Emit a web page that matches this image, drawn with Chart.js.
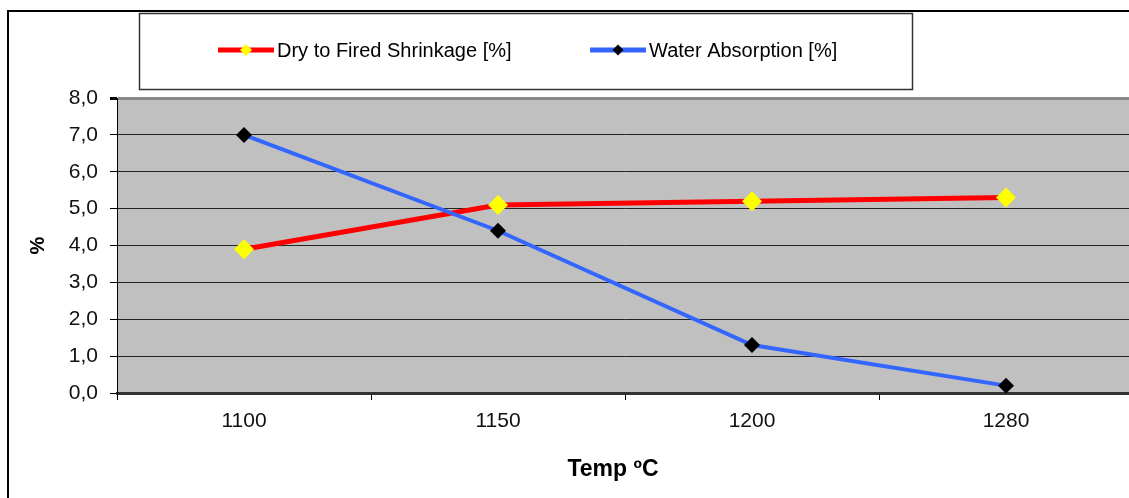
<!DOCTYPE html>
<html>
<head>
<meta charset="utf-8">
<script src="https://cdn.jsdelivr.net/npm/chart.js@4"></script>
<style>
  html, body { margin: 0; padding: 0; background: #fff; overflow: hidden; }
  #wrap { position: relative; width: 1145px; height: 498px; }
</style>
</head>
<body>
<div id="wrap"><canvas id="chart"></canvas></div>
<script>
const temps = ["1100", "1150", "1200", "1280"];
const shrinkage = [3.9, 5.1, 5.2, 5.3];
const absorption = [7.0, 4.4, 1.3, 0.2];
const yMin = 0, yMax = 8, yStep = 1;
const seriesNames = ["Dry to Fired Shrinkage [%]", "Water Absorption [%]"];
const xTitle = "Temp ºC";

const FONT = "'Liberation Sans', Arial, sans-serif";

// --- background, frame, legend box and x title ---
const framePlugin = {
  id: "frame",
  beforeDraw(chart) {
    const { ctx, chartArea: a } = chart;
    ctx.save();
    ctx.fillStyle = "#C0C0C0";
    ctx.fillRect(a.left, a.top, a.right - a.left, a.bottom - a.top);
    // outer frame (left + top visible)
    ctx.strokeStyle = "#000";
    ctx.lineWidth = 2;
    ctx.beginPath();
    ctx.moveTo(8, 498);
    ctx.lineTo(8, 11);
    ctx.lineTo(1145, 11);
    ctx.stroke();
    // legend box
    ctx.strokeStyle = "#333";
    ctx.lineWidth = 1.5;
    ctx.strokeRect(139.5, 13.5, 773, 76);
    ctx.restore();
  },
  afterDraw(chart) {
    const { ctx } = chart;
    const items = [
      { x: 218, text: seriesNames[0], line: "#FF0000", mark: "#FFFF00", r: 6 },
      { x: 590, text: seriesNames[1], line: "#3366FF", mark: "#000000", r: 5.5 },
    ];
    ctx.save();
    items.forEach((it) => {
      const y = 50;
      ctx.strokeStyle = it.line;
      ctx.lineWidth = 5;
      ctx.beginPath();
      ctx.moveTo(it.x, y);
      ctx.lineTo(it.x + 56, y);
      ctx.stroke();
      const cx = it.x + 28;
      ctx.fillStyle = it.mark;
      ctx.beginPath();
      ctx.moveTo(cx, y - it.r);
      ctx.lineTo(cx + it.r, y);
      ctx.lineTo(cx, y + it.r);
      ctx.lineTo(cx - it.r, y);
      ctx.closePath();
      ctx.fill();
      ctx.fillStyle = "#000";
      ctx.font = "20px " + FONT;
      ctx.textBaseline = "middle";
      ctx.textAlign = "left";
      ctx.fillText(it.text, it.x + 59, y + 1);
    });
    // x axis title
    ctx.font = "bold 23px " + FONT;
    ctx.textAlign = "center";
    ctx.textBaseline = "middle";
    ctx.fillText(xTitle, 613, 470);
    ctx.restore();
  },
};

new Chart(document.getElementById("chart"), {
  type: "line",
  data: {
    labels: temps,
    datasets: [
      {
        label: seriesNames[0],
        data: shrinkage,
        borderColor: "#FF0000",
        borderWidth: 5,
        pointStyle: "rectRot",
        pointRadius: 10,
        pointBackgroundColor: "#FFFF00",
        pointBorderColor: "#FFFF00",
        pointBorderWidth: 0,
        tension: 0,
        order: 1,
      },
      {
        label: seriesNames[1],
        data: absorption,
        borderColor: "#3366FF",
        borderWidth: 4,
        pointStyle: "rectRot",
        pointRadius: 8,
        pointBackgroundColor: "#000000",
        pointBorderColor: "#000000",
        pointBorderWidth: 0,
        tension: 0,
        order: 0,
      },
    ],
  },
  options: {
    responsive: true,
    maintainAspectRatio: false,
    animation: false,
    layout: { padding: { left: 0, top: 98, right: 12, bottom: 0 } },
    plugins: { legend: { display: false }, tooltip: { enabled: false } },
    scales: {
      x: {
        offset: true,
        afterFit(scale) { scale.height = 105; },
        grid: { drawOnChartArea: false, drawTicks: true, tickLength: 7, tickColor: "#000", offset: true },
        border: { display: true, color: "#333", width: 3 },
        ticks: { color: "#111", padding: 9, font: { family: FONT, size: 21 } },
      },
      y: {
        min: yMin,
        max: yMax,
        afterFit(scale) { scale.width = 117; },
        grid: {
          color: (c) => (c.tick && c.tick.value === yMax ? "#888" : "#222"),
          lineWidth: (c) => (c.tick && c.tick.value === yMax ? 3 : 1),
          tickLength: 7,
          tickColor: "#000",
        },
        border: { display: true, color: "#000", width: 1 },
        ticks: {
          stepSize: yStep,
          color: "#111",
          padding: 12,
          font: { family: FONT, size: 21 },
          callback: (v) => v.toFixed(1).replace(".", ","),
        },
        title: {
          display: true,
          text: "%",
          color: "#000",
          font: { family: FONT, size: 20, weight: "bold" },
          padding: { top: 26, bottom: 0 },
        },
      },
    },
  },
  plugins: [framePlugin],
});
</script>
</body>
</html>
